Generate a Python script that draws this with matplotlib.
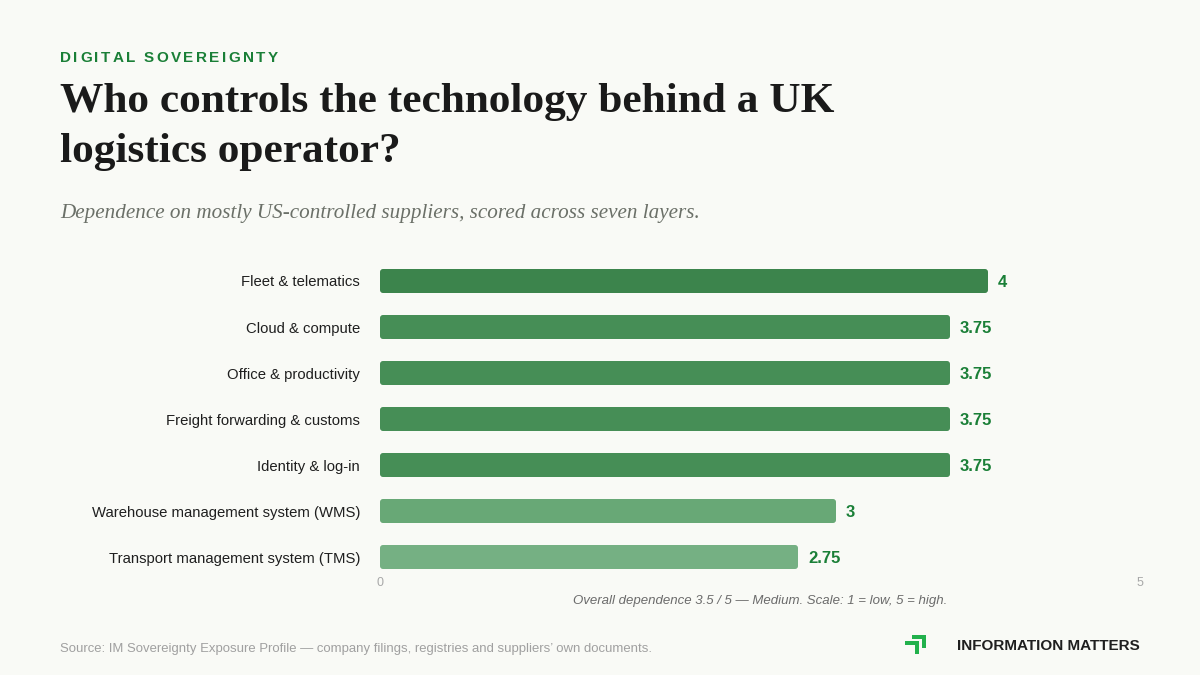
import matplotlib
matplotlib.use("Agg")
import matplotlib.pyplot as plt
from matplotlib.patches import FancyBboxPatch, Polygon

categories = ["Fleet & telematics", "Cloud & compute", "Office & productivity",
              "Freight forwarding & customs", "Identity & log-in",
              "Warehouse management system (WMS)", "Transport management system (TMS)"]
values = [4, 3.75, 3.75, 3.75, 3.75, 3, 2.75]
value_labels = ["4", "3.75", "3.75", "3.75", "3.75", "3", "2.75"]
bar_colors = ["#3c844c", "#468e56", "#468e56", "#468e56", "#468e56", "#68a876", "#75b083"]
x_ticks = [0, 5]

BG = "#f9faf6"
GREEN = "#1a7f37"
W, H = 1200, 675
fig = plt.figure(figsize=(12, 6.75), dpi=100, facecolor=BG)

def fx(px): return px / W
def fy(py): return 1 - py / H

# Kicker with letter spacing
renderer = fig.canvas.get_renderer()
x = 60
for ch in "DIGITAL SOVEREIGNTY":
    t = fig.text(fx(x), fy(62), ch, fontsize=11, fontweight="bold", color=GREEN,
                 family="Liberation Sans", va="baseline", ha="left")
    if ch == " ":
        w = 4.0
    else:
        w = t.get_window_extent(renderer).width
    x += w + 2.4

fig.text(fx(60), fy(112), "Who controls the technology behind a UK", fontsize=31.2,
         fontweight="bold", family="Liberation Serif", color="#1a1a1a", va="baseline")
fig.text(fx(60), fy(162), "logistics operator?", fontsize=31.2,
         fontweight="bold", family="Liberation Serif", color="#1a1a1a", va="baseline")
fig.text(fx(60), fy(218), "Dependence on mostly US-controlled suppliers, scored across seven layers.",
         fontsize=15.2, style="italic", family="Liberation Serif", color="#6b7068", va="baseline")

# Axes: x 380..1140 px, bars centered at 281..557 (46 px step)
n = len(categories)
top = 281 - 23
bottom = 557 + 23
ax = fig.add_axes([fx(380), fy(bottom), fx(1140 - 380), (bottom - top) / H])
ax.set_facecolor(BG)
ax.set_xlim(0, 5)
ax.set_ylim(n - 0.5, -0.5)
bh = 24 / 46
xunit_per_px = 5 / 760
yunit_per_px = 1 / 46
for i, (v, c) in enumerate(zip(values, bar_colors)):
    p = FancyBboxPatch((0, i - bh / 2), v, bh,
                       boxstyle="round,pad=0,rounding_size=%f" % (3 * xunit_per_px),
                       mutation_aspect=yunit_per_px / xunit_per_px,
                       facecolor=c, edgecolor="none")
    ax.add_patch(p)
    ax.text(v + 10 * xunit_per_px, i, value_labels[i], color=GREEN, fontsize=12,
            fontweight="bold", family="Liberation Sans", va="center_baseline", ha="left")
ax.set_yticks(range(n))
ax.set_yticklabels(categories, fontsize=10.75, family="Liberation Sans", color="#1f1f1f",
                   va="center_baseline")
ax.tick_params(axis="y", length=0, pad=14.4)
ax.set_xticks(x_ticks)
ax.set_xticklabels([str(t) for t in x_ticks], fontsize=9, family="Liberation Sans", color="#a8a8a8")
ax.tick_params(axis="x", length=0, pad=-2.5)
for s in ax.spines.values():
    s.set_visible(False)

fig.text(fx(760.5), fy(601), "Overall dependence 3.5 / 5 — Medium. Scale: 1 = low, 5 = high.",
         fontsize=9.5, style="italic", family="Liberation Sans", color="#6b6b6b",
         ha="center", va="center")

fig.text(fx(60), fy(649), "Source: IM Sovereignty Exposure Profile — company filings, registries and suppliers’ own documents.",
         fontsize=9.45, family="Liberation Sans", color="#a0a0a0", va="center")

fig.text(fx(1140), fy(646), "INFORMATION MATTERS", fontsize=11, fontweight="bold",
         family="Liberation Sans", color="#1f1f1f", ha="right", va="center")

# Logo
lg = "#22b14c"
def P(pts):
    fig.patches.append(Polygon([(fx(a), fy(b)) for a, b in pts], closed=True,
                               facecolor=lg, edgecolor="none", transform=fig.transFigure))
P([(912, 635), (926, 635), (926, 648), (922, 648), (922, 639), (912, 639)])
P([(905, 641), (919, 641), (919, 654), (915, 654), (915, 645), (905, 645)])

fig.savefig("out.png", dpi=100, facecolor=BG)
